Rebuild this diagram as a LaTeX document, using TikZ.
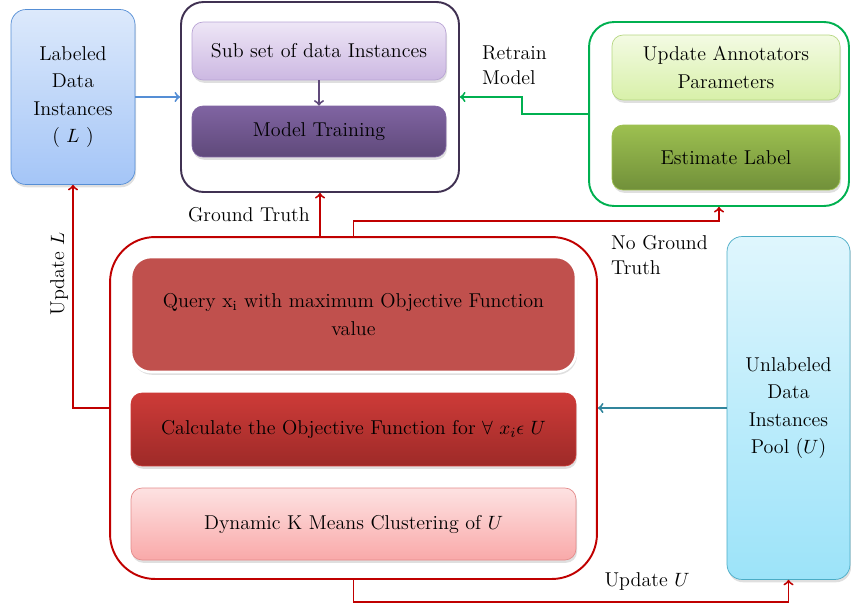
\documentclass[tikz,border=0pt]{standalone}
\usepackage{amsmath}
\usetikzlibrary{positioning}
\usetikzlibrary{shapes.geometric, arrows, shadows}

\definecolor{labBlue}{RGB}{85,142,213}
\definecolor{labTop}{RGB}{220,233,251}
\definecolor{labBot}{RGB}{164,197,247}
\definecolor{trainPurple}{RGB}{64,49,82}
\definecolor{subTop}{RGB}{238,230,246}
\definecolor{subBot}{RGB}{204,184,226}
\definecolor{subLine}{RGB}{184,163,212}
\definecolor{modTop}{RGB}{128,100,162}
\definecolor{modBot}{RGB}{95,73,122}
\definecolor{arrPurple}{RGB}{96,74,123}
\definecolor{estGreen}{RGB}{0,176,80}
\definecolor{updTop}{RGB}{243,251,227}
\definecolor{updBot}{RGB}{216,240,169}
\definecolor{updLine}{RGB}{181,214,129}
\definecolor{estTop}{RGB}{157,192,80}
\definecolor{estBot}{RGB}{113,144,58}
\definecolor{loopRed}{RGB}{192,0,0}
\definecolor{queryRed}{RGB}{192,80,77}
\definecolor{calcTop}{RGB}{205,59,56}
\definecolor{calcBot}{RGB}{158,42,40}
\definecolor{dynTop}{RGB}{253,226,226}
\definecolor{dynBot}{RGB}{249,169,169}
\definecolor{dynLine}{RGB}{228,138,138}
\definecolor{poolTop}{RGB}{223,246,253}
\definecolor{poolBot}{RGB}{156,227,249}
\definecolor{poolLine}{RGB}{75,172,198}
\definecolor{poolArrow}{RGB}{49,133,156}

\tikzstyle{arrow} = [line width=1.1pt,->,>=to]
\tikzstyle{frame} = [rectangle, line width=1.1pt, rounded corners=0.45cm]
\tikzstyle{box} = [rectangle, rounded corners=0.22cm, align=center, font=\fontsize{11.4}{15.6}\selectfont, drop shadow={opacity=0.25, shadow xshift=0.6pt, shadow yshift=-1.6pt}]
\tikzstyle{lbl} = [align=left, text=black, font=\fontsize{11.4}{14.5}\selectfont]

\begin{document}
\begin{tikzpicture}[x=0.02cm,y=-0.02cm]
	%Bounding box
	\useasboundingbox (0,0) rectangle (851,608);
	
	%Frames
	\node [frame, draw=trainPurple, minimum width=5.56cm, minimum height=3.8cm] (trainBox) at (320,97) {};
	\node [frame, draw=estGreen, minimum width=5.2cm, minimum height=3.68cm, rounded corners=0.5cm] (labelBox) at (719,114) {};
	\node [frame, draw=loopRed, minimum width=9.74cm, minimum height=6.84cm, rounded corners=0.9cm] (queryLoop) at (353.5,408) {};
	
	%Nodes
	\node [box, draw=labBlue, top color=labTop, bottom color=labBot, minimum width=2.48cm, minimum height=3.5cm, rounded corners=0.3cm] (labeled) at (73,97) {Labeled\\Data\\Instances\\( $L$ )};
	\node [box, draw=subLine, top color=subTop, bottom color=subBot, minimum width=5.08cm, minimum height=1.16cm] (subset) at (319,51) {Sub set of data Instances};
	\node [box, draw=modTop, top color=modTop, bottom color=modBot, minimum width=5.08cm, minimum height=1.02cm] (training) at (319,131.5) {Model Training};
	\node [box, draw=updLine, top color=updTop, bottom color=updBot, minimum width=4.56cm, minimum height=1.3cm] (annotators) at (726,67.5) {Update Annotators\\Parameters};
	\node [box, draw=estTop, top color=estTop, bottom color=estBot, minimum width=4.56cm, minimum height=1.3cm] (estimate) at (726,157.5) {Estimate Label};
	\node [box, draw=white, line width=1.5pt, fill=queryRed, minimum width=8.9cm, minimum height=2.3cm, rounded corners=0.4cm] (query) at (353.5,314.5) {Query x\textsubscript{i} with maximum Objective Function\\value};
	\node [box, draw=calcTop, top color=calcTop, bottom color=calcBot, minimum width=8.9cm, minimum height=1.46cm] (calculate) at (353.5,429.5) {Calculate the Objective Function for $\forall\ x_i\epsilon\ U$};
	\node [box, draw=dynLine, top color=dynTop, bottom color=dynBot, minimum width=8.9cm, minimum height=1.44cm] (clustering) at (353.5,524) {Dynamic K Means Clustering of $U$};
	\node [box, draw=poolLine, top color=poolTop, bottom color=poolBot, minimum width=2.46cm, minimum height=6.86cm, rounded corners=0.3cm] (pool) at (788.5,408) {Unlabeled\\Data\\Instances\\Pool ($U$)};
	
	%Arrows
	\draw [arrow, labBlue] (labeled.east) -- (trainBox.west);
	\draw [arrow, arrPurple] (subset.south) -- (training.north);
	\draw [arrow, estGreen] (labelBox.west) -- ++(-66,0) |- (trainBox.east);
	\draw [arrow, poolArrow] (pool.west) -- (queryLoop.east);
	\draw [arrow, loopRed] (queryLoop.north -| trainBox.south) -- node[left=2pt, lbl] {Ground Truth} (trainBox.south);
	\draw [arrow, loopRed] (queryLoop.north) -- ++(0,-15) -| (labelBox.south);
	\draw [arrow, loopRed] (queryLoop.west) -| (labeled.south);
	\draw [arrow, loopRed] (queryLoop.south) -- ++(0,22) -| (pool.south);
	
	%Labels
	\node [lbl, anchor=west] (retrain) at (476,65) {Retrain\\Model};
	\node [lbl, anchor=west] (noTruth) at (605,255) {No Ground\\Truth};
	\node [lbl, rotate=90] (updateL) at (59,274) {Update $L$};
	\node [lbl] (updateU) at (647,581) {Update $U$};
\end{tikzpicture}
\end{document}
